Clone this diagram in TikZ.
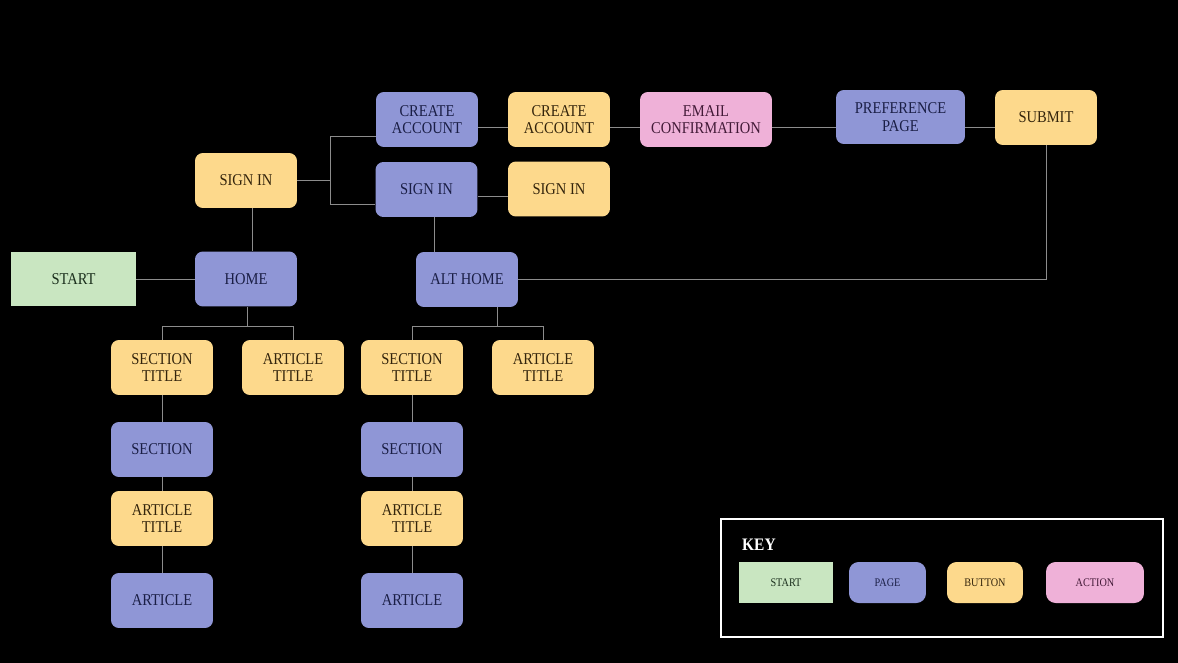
\documentclass[tikz,border=0pt]{standalone}
\usepackage{fontspec}
\setmainfont{Liberation Serif}[FakeStretch=0.88]
\usepackage{tikz}

\definecolor{pagefill}{HTML}{8F96D6}
\definecolor{pagetext}{HTML}{1A1E45}
\definecolor{btnfill}{HTML}{FDD98C}
\definecolor{btntext}{HTML}{33240C}
\definecolor{actfill}{HTML}{EFB1D8}
\definecolor{acttext}{HTML}{421A37}
\definecolor{startfill}{HTML}{C9E6C1}
\definecolor{starttext}{HTML}{1A2E1C}
\definecolor{linkgray}{HTML}{8C8C8C}

\tikzset{
  box/.style={rounded corners=4.5pt, align=center, inner sep=2pt,
    minimum width=2.04cm, minimum height=1.1cm,
    font=\fontsize{9.4}{10}\selectfont},
  pagebox/.style={box, fill=pagefill, text=pagetext},
  btnbox/.style={box, fill=btnfill, text=btntext},
  actbox/.style={box, fill=actfill, text=acttext},
  startbox/.style={box, sharp corners, fill=startfill, text=starttext},
  keybox/.style={minimum height=0.82cm, rounded corners=5.5pt,
    font=\fontsize{6.6}{7.5}\selectfont},
  link/.style={draw=linkgray, line width=0.55pt}
}

\begin{document}
\begin{tikzpicture}[x=0.02cm, y=-0.02cm]
%
	\fill[black] (0,0) rectangle (1178,663);
%
	% top row
	\node[pagebox] (createP) at (427,119.5) {CREATE\\ACCOUNT};
	\node[btnbox] (createB) at (559,119.5) {CREATE\\ACCOUNT};
	\node[actbox, minimum width=2.64cm] (email) at (706,119.5) {EMAIL\\CONFIRMATION};
	\node[pagebox, minimum width=2.58cm, minimum height=1.08cm] (pref) at (900.5,117) {PREFERENCE\\PAGE};
	\node[btnbox] (submit) at (1046,117.5) {SUBMIT};
%
	\node[btnbox] (signinA) at (246,180.5) {SIGN IN};
	\node[pagebox] (signinP) at (426.5,189.5) {SIGN IN};
	\node[btnbox] (signinB) at (559,189) {SIGN IN};
%
	\node[startbox, minimum width=2.5cm, minimum height=1.08cm] (start) at (73.5,279) {START};
	\node[pagebox] (home) at (246,279) {HOME};
	\node[pagebox] (althome) at (467,279.5) {ALT HOME};
%
	% left column
	\node[btnbox] (secTL) at (162,367.5) {SECTION\\TITLE};
	\node[btnbox] (artTL) at (293,367.5) {ARTICLE\\TITLE};
	\node[pagebox] (secL) at (162,449.5) {SECTION};
	\node[btnbox] (artTL2) at (162,518.5) {ARTICLE\\TITLE};
	\node[pagebox] (artL) at (162,600.5) {ARTICLE};
%
	% right column
	\node[btnbox] (secTR) at (412,367.5) {SECTION\\TITLE};
	\node[btnbox] (artTR) at (543,367.5) {ARTICLE\\TITLE};
	\node[pagebox] (secR) at (412,449.5) {SECTION};
	\node[btnbox] (artTR2) at (412,518.5) {ARTICLE\\TITLE};
	\node[pagebox] (artR) at (412,600.5) {ARTICLE};
%
	% connectors
	\coordinate (jA) at (330,180.5);
	\coordinate (jAt) at (330,136);
	\coordinate (jAb) at (330,204);
	\coordinate (rowA) at (0,127);
	\coordinate (rowB) at (0,196);
	\coordinate (vA) at (252,0);
	\coordinate (vB) at (434,0);
	\coordinate (tA) at (247,326.5);
	\coordinate (tB) at (497,326.5);
%
	\draw[link] (signinA) -- (jA);
	\draw[link] (createP.west |- jAt) -| (jAb) -- (signinP.west |- jAb);
	\draw[link] (createP.east |- rowA) -- (createB.west |- rowA);
	\draw[link] (createB.east |- rowA) -- (email.west |- rowA);
	\draw[link] (email.east |- rowA) -- (pref.west |- rowA);
	\draw[link] (pref.east |- rowA) -- (submit.west |- rowA);
	\draw[link] (signinP.east |- rowB) -- (signinB.west |- rowB);
	\draw[link] (signinA.south -| vA) -- (home.north -| vA);
	\draw[link] (signinP.south -| vB) -- (althome.north -| vB);
	\draw[link] (submit.south) |- (althome.east);
	\draw[link] (start) -- (home);
%
	\draw[link] (home.south -| tA) -- (tA);
	\draw[link] (secTL.north) |- (tA) -| (artTL.north);
	\draw[link] (secTL) -- (secL) -- (artTL2) -- (artL);
	\draw[link] (althome.south -| tB) -- (tB);
	\draw[link] (secTR.north) |- (tB) -| (artTR.north);
	\draw[link] (secTR) -- (secR) -- (artTR2) -- (artR);
%
	% key
	\draw[white, line width=0.8pt] (721,519) rectangle (1163,637);
	\node[anchor=west, text=white, font=\fontsize{10}{11}\selectfont\bfseries] (key) at (736,545) {KEY};
	\node[startbox, keybox, sharp corners, minimum width=1.88cm] (kstart) at (786,582.5) {START};
	\node[pagebox, keybox, minimum width=1.54cm] (kpage) at (887.5,582.5) {PAGE};
	\node[btnbox, keybox, minimum width=1.52cm] (kbtn) at (985,582.5) {BUTTON};
	\node[actbox, keybox, minimum width=1.96cm] (kact) at (1095,582.5) {ACTION};
\end{tikzpicture}
\end{document}
